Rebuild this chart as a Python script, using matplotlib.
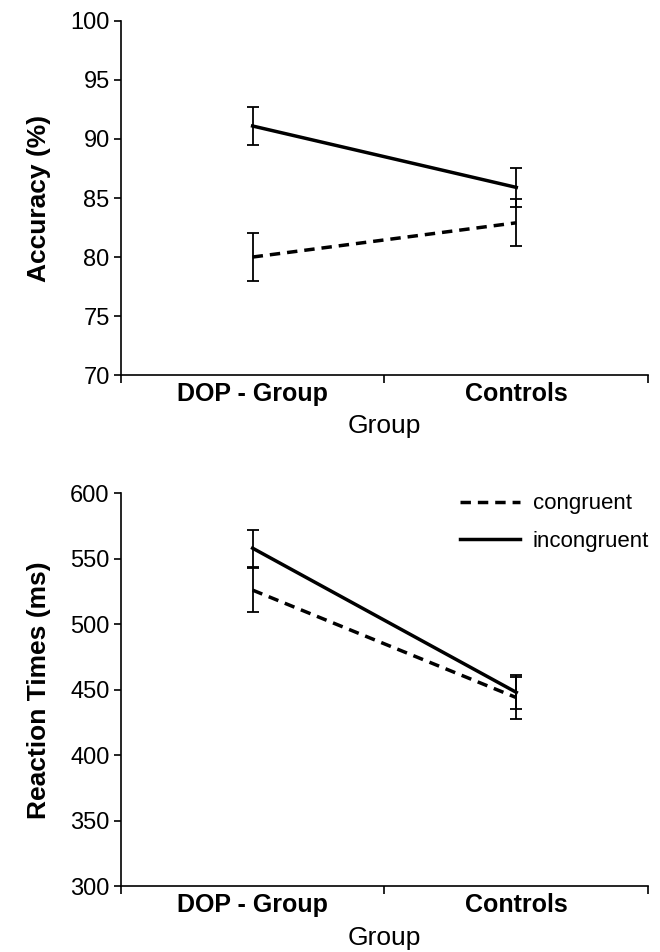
import matplotlib
matplotlib.use('Agg')
import matplotlib.pyplot as plt

plt.rcParams['font.family'] = ['Liberation Sans', 'DejaVu Sans']

groups = ['DOP - Group', 'Controls']

# accuracy (%)
acc_congruent = [80.0, 82.9]
acc_congruent_err = [2.05, 2.0]
acc_incongruent = [91.1, 85.9]
acc_incongruent_err = [1.65, 1.65]

# reaction times (ms)
rt_congruent = [526, 444]
rt_congruent_err = [16.5, 16]
rt_incongruent = [558, 448]
rt_incongruent_err = [14, 13]

fig = plt.figure(figsize=(6.6, 9.52), dpi=100)
ax1 = fig.add_axes([0.183, 0.606, 0.799, 0.372])
ax2 = fig.add_axes([0.183, 0.069, 0.799, 0.413])

xpos = [0.5, 1.5]
dash = (0, (3, 2))


def style_axes(ax, ylim, yticks, ylabel):
    for side in ['top', 'right']:
        ax.spines[side].set_visible(False)
    ax.spines['left'].set_linewidth(1.2)
    ax.spines['bottom'].set_linewidth(1.2)
    ax.set_xlim(0, 2)
    ax.set_ylim(*ylim)
    ax.set_yticks(yticks)
    ax.tick_params(axis='y', labelsize=17, length=5, width=1.2, direction='out', pad=3)
    ax.set_xticks([0, 1, 2])
    ax.set_xticklabels([])
    ax.tick_params(axis='x', which='major', length=6, width=1.2, direction='out')
    ax.set_xticks(xpos, minor=True)
    ax.set_xticklabels(groups, minor=True, fontsize=18, fontweight='bold')
    ax.tick_params(axis='x', which='minor', length=0, pad=5)
    ax.set_xlabel('Group', fontsize=19, labelpad=6)
    ax.set_ylabel(ylabel, fontsize=19, fontweight='bold', labelpad=14)


ax1.errorbar(xpos, acc_congruent, yerr=acc_congruent_err, color='black', lw=2.5,
             linestyle=dash, capsize=4, elinewidth=1.3, capthick=1.3)
ax1.errorbar(xpos, acc_incongruent, yerr=acc_incongruent_err, color='black', lw=2.5,
             capsize=4, elinewidth=1.3, capthick=1.3)
style_axes(ax1, (70, 100), range(70, 101, 5), 'Accuracy (%)')

ax2.errorbar(xpos, rt_congruent, yerr=rt_congruent_err, color='black', lw=2.5,
             linestyle=dash, capsize=4, elinewidth=1.3, capthick=1.3, label='congruent')
ax2.errorbar(xpos, rt_incongruent, yerr=rt_incongruent_err, color='black', lw=2.5,
             capsize=4, elinewidth=1.3, capthick=1.3, label='incongruent')
style_axes(ax2, (300, 600), range(300, 601, 50), 'Reaction Times (ms)')

handles, labels = ax2.get_legend_handles_labels()
handles = [h[0] for h in handles]
ax2.legend(handles, labels, loc='upper right', bbox_to_anchor=(1.04, 1.05), frameon=False,
           fontsize=16, handlelength=2.7, handletextpad=0.6, labelspacing=0.75)

fig.savefig('out.png', dpi=100)
